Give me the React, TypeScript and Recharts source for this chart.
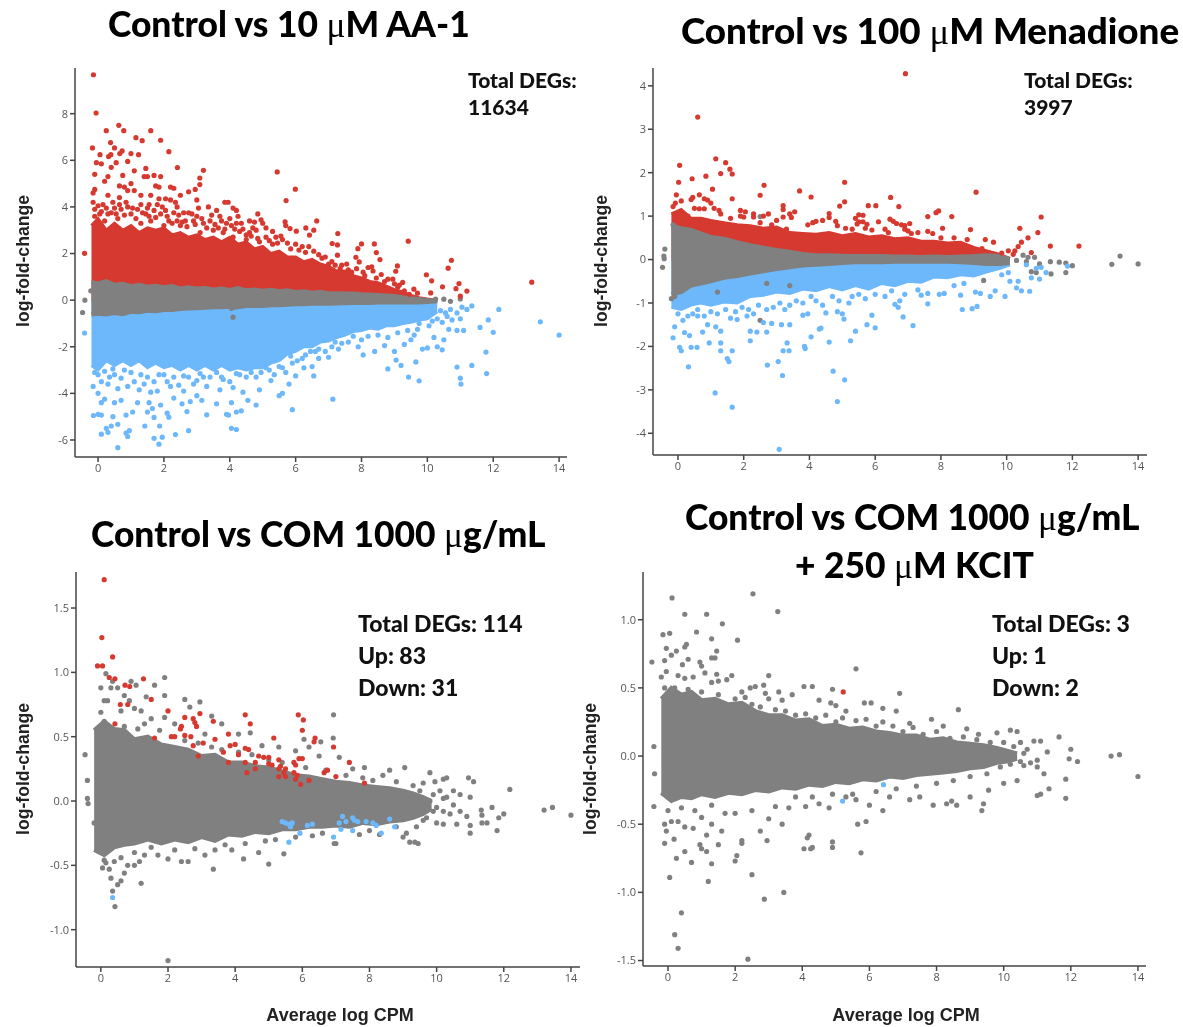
import { Area, ComposedChart, Scatter, XAxis, YAxis } from "recharts";

const RED = "#d6392f";
const GRAY = "#808080";
const BLUE = "#6db7fb";

type P = number[];

// shared x tick labels
const xTicks = [0, 2, 4, 6, 8, 10, 12, 14];

// ---- Control vs 10 uM AA-1: solid parts of the cloud, then single genes
const aaBandX = [-0.2, 0, 0.25, 0.5, 0.75, 1, 1.25, 1.5, 1.75, 2, 2.25, 2.5, 2.75, 3, 3.25, 3.5, 3.75, 4, 4.25, 4.5, 4.75, 5, 5.25, 5.5, 5.75, 6, 6.25, 6.5, 6.75, 7, 7.25, 7.5, 7.75, 8, 8.25, 8.5, 8.75, 9, 9.25, 9.5, 9.75, 10, 10.3];
const aaRedHi = [3.2, 3.5, 3.0, 3.3, 3.0, 3.2, 2.9, 3.1, 3.0, 3.1, 2.8, 2.9, 2.7, 2.8, 2.6, 2.7, 2.5, 2.7, 2.4, 2.5, 2.2, 2.3, 2.0, 2.1, 1.85, 1.85, 1.65, 1.75, 1.55, 1.45, 1.25, 1.25, 1.05, 0.95, 0.8, 0.75, 0.6, 0.45, 0.35, 0.2, 0.1, 0.05, 0];
const aaGrayHi = [0.78, 0.72, 0.82, 0.66, 0.7, 0.6, 0.66, 0.58, 0.62, 0.55, 0.6, 0.5, 0.55, 0.5, 0.52, 0.46, 0.5, 0.44, 0.52, 0.42, 0.46, 0.4, 0.44, 0.38, 0.42, 0.35, 0.38, 0.32, 0.36, 0.3, 0.3, 0.28, 0.28, 0.25, 0.24, 0.22, 0.2, 0.18, 0.12, 0.08, 0.05, 0, -0.02];
const aaGrayLo = [-0.62, -0.58, -0.62, -0.55, -0.6, -0.5, -0.52, -0.46, -0.48, -0.42, -0.42, -0.38, -0.36, -0.35, -0.33, -0.3, -0.3, -0.28, -0.3, -0.25, -0.25, -0.25, -0.22, -0.22, -0.2, -0.18, -0.18, -0.16, -0.15, -0.15, -0.14, -0.13, -0.12, -0.12, -0.12, -0.1, -0.1, -0.1, -0.1, -0.1, -0.1, -0.08, -0.05];
const aaBlueLo = [-2.8, -3.0, -2.6, -2.8, -2.6, -2.8, -2.6, -2.9, -2.7, -2.9, -2.8, -3.0, -2.8, -3.0, -2.8, -3.0, -2.8, -3.0, -2.9, -3.0, -2.9, -2.9, -2.7, -2.6, -2.3, -2.2, -2.0, -2.0, -1.8, -1.75, -1.6, -1.5, -1.35, -1.3, -1.2, -1.25, -1.1, -1.1, -1.0, -0.95, -0.85, -0.8, -0.5];

const aaUp: P[] = [
  [-0.14, 9.67], [-0.06, 8.03], [-0.17, 6.53], [0.25, 7.27], [0.63, 7.5], [0.78, 7.27], [1.15, 6.97], [1.34, 6.84], [1.6, 7.27], [1.9, 6.86],
  [0.38, 6.76], [0.5, 6.53], [0.06, 6.24], [0.32, 6.16], [0.39, 6.24], [0.73, 6.4], [0.66, 6.29], [1, 6.29], [1.23, 6.24], [2.15, 6.37],
  [2.41, 5.69], [3.2, 5.57], [5.44, 5.5], [5.99, 4.76], [5.71, 4.27], [3.09, 5.24], [3.09, 4.96], [-0.41, 2.01], [9.42, 2.53], [13.17, 0.77],
  [10.73, 1.71], [10.63, 1.37], [10.96, 0.71], [10.87, 0.49], [11.2, 0.39], [11, 0.17], [10.46, 0.57], [9.97, 1.09], [10.13, 0.83], [10.1, 0.31],
  [9.09, 1.47], [9.04, 1.24], [9.25, 0.76], [9.59, 0.47], [8.39, 2.41], [8.45, 2.04], [8.56, 1.74], [8, 2.41], [7.89, 2.21], [7.83, 1.84],
  [7.93, 1.64], [8.31, 1.43], [7.28, 2.86], [7.11, 2.43], [7.27, 2.37], [7.27, 1.93], [6.64, 3.4], [6.31, 3.1], [6.55, 3.0], [6.42, 2.79],
  [6.02, 2.96], [5.83, 3.07], [5.68, 3.36], [5.7, 3.2], [5.1, 3.1], [4.85, 3.7], [4.95, 3.45], [4.8, 3.0], [4.7, 3.1], [3.85, 4.2],
  [3.95, 4.2], [4.1, 3.95], [4.2, 3.85], [4.25, 3.6], [3.6, 3.85], [3.35, 4.0], [2.6, 3.75], [2.75, 3.75], [2.85, 3.7], [2.5, 4.5],
  [2.2, 4.85], [2.3, 4.8], [1.9, 5.3], [1.7, 5.35], [1.5, 5.3], [1.45, 5.65], [0.9, 5.95], [1.1, 5.55], [0.75, 5.35], [0.65, 4.9],
  [0.8, 4.85], [1, 5.0], [0.3, 5.3], [0.2, 5.1], [-0.1, 5.4], [-0.05, 5.9], [0.1, 5.85], [0.4, 5.7], [0.55, 5.9], [1.4, 5.3],
  [1.75, 4.9], [1.85, 4.85], [1.1, 4.7], [0.9, 4.7], [-0.1, 4.75], [-0.15, 4.6], [0.3, 4.5], [0.45, 4.2], [0.65, 4.4], [0.85, 4.2],
  [1.3, 4.5], [1.6, 4.5], [1.55, 4.1], [1.85, 4.35], [2.05, 4.35], [2.2, 4.3], [2.35, 4.2], [2.75, 4.65], [2.95, 4.75], [3, 4.3],
  [3.0, 3.6], [2.4, 3.4], [2.55, 3.35], [2.9, 3.4], [3.2, 3.3], [3.4, 3.4], [3.7, 3.6], [3.9, 3.3], [4.2, 3.3], [4.35, 3.3],
  [4.6, 2.9], [5.1, 2.7], [5.4, 2.7], [5.6, 2.6], [6.2, 2.3], [6.4, 2.3], [6.7, 1.95], [6.9, 1.85], [7.1, 1.65], [7.4, 1.5],
  [7.6, 1.3], [8.05, 1.2], [8.35, 1.25], [8.6, 1.1], [8.8, 0.9], [9, 0.7], [9.3, 0.4], [-0.1, 3.9], [0.1, 3.8], [0.4, 3.75],
  [0.7, 3.9], [1, 3.7], [1.2, 3.9], [1.45, 3.7], [1.7, 3.85], [1.9, 3.7], [2.1, 3.6], [2.3, 3.75], [0.2, 3.4], [0.6, 3.5],
  [1.3, 3.3], [1.6, 3.4], [2, 3.2], [3.1, 2.9], [3.5, 3.0], [3.8, 2.9], [4.1, 2.7], [4.5, 2.6], [4.9, 2.5], [5.3, 2.4],
];
// speckled margin of the red cloud
const aaUpEdge: P[] = [
  [-0.15, 4.2], [-0.1, 3.6], [0, 4.05], [0.05, 3.7], [0.15, 4.1], [0.25, 3.95], [0.3, 3.7], [0.5, 3.95], [0.55, 3.7], [0.65, 4.1],
  [0.8, 3.65], [0.9, 4.0], [1.05, 3.95], [1.15, 3.5], [1.3, 4.1], [1.35, 3.75], [1.5, 3.95], [1.55, 3.6], [1.75, 3.55], [1.8, 4.1],
  [1.95, 4], [2.05, 3.85], [2.15, 3.4], [2.25, 3.3], [2.4, 4], [2.45, 3.65], [2.5, 3.2], [2.65, 3.4], [2.7, 3.15], [2.95, 3.25],
  [3.05, 3.95], [3.15, 3.5], [3.3, 3.1], [3.45, 3.65], [3.55, 3.25], [3.65, 3.1], [3.75, 3.4], [3.85, 3.05], [4, 3.5], [4.05, 3.2],
  [4.15, 3.05], [4.3, 2.95], [4.4, 3.05], [4.5, 2.8], [4.6, 3.4], [4.65, 2.75], [4.75, 3.35], [4.85, 2.65], [5, 3.3], [5.2, 2.55],
  [5.3, 2.95], [5.45, 2.45], [5.55, 2.75], [5.75, 2.45], [5.85, 2.2], [6, 2.4], [6.1, 2.15], [6.3, 2.05], [6.55, 2.1], [6.8, 1.8],
  [7, 1.55], [7.2, 1.5], [7.35, 1.35], [7.55, 1.55], [7.7, 1.2], [7.85, 1.35], [8.1, 1.05], [8.2, 1.4], [8.45, 0.95], [8.7, 0.8],
  [8.95, 0.9], [9.1, 0.55], [9.15, 0.65], [9.45, 0.25], [9.7, 0.3],
];
const aaFlat: P[] = [[-0.4, 0], [-0.22, 0.4], [-0.47, -0.53], [4.05, -0.35], [4.1, -0.73], [4.15, -0.3], [9.2, -0.02], [9.8, 0], [10.25, 0.05], [10.5, 0.04], [10.7, -0.05], [11, 0.05]];
const aaDown: P[] = [
  [-0.41, -1.41], [14, -1.5], [13.43, -0.93], [12.17, -0.4], [11.35, -0.25], [11.6, -1.17], [11.85, -0.85], [12, -1.38], [11.78, -2.23], [11.8, -3.15],
  [11.35, -2.8], [10.9, -2.87], [11, -3.35], [11.02, -3.6], [9.75, -3.46], [9.43, -3.3], [8.8, -2.95], [9.2, -2.8], [9.05, -2.57], [9.65, -2.65],
  [7.13, -4.25], [5.9, -4.7], [4.8, -4.5], [4.55, -4.3], [5.5, -4.1], [5.6, -4], [4.2, -5.55], [4.05, -5.5], [3.96, -4.93], [3.9, -4.9],
  [4.05, -4.4], [4.2, -4.8], [4.35, -4.75], [3.3, -4.92], [3.6, -4.45], [2.7, -4.78], [2.75, -5.6], [2.35, -5.77], [1.95, -5.88], [1.85, -6.18],
  [1.7, -5.93], [1.87, -5.4], [1.42, -5.4], [0.6, -6.33], [0.6, -5.33], [0.9, -5.85], [0.95, -5.6], [0.85, -5.7], [0.1, -5.75], [0.3, -5.67],
  [0.25, -5.5], [0.4, -5.4], [-0.14, -4.95], [0, -4.9], [0.1, -4.93], [0.45, -5], [0.85, -4.93], [1.05, -4.8], [1.5, -4.8], [1.65, -4.65],
  [1.7, -5.03], [2.1, -4.85], [2.15, -5.02], [2.55, -4.45], [2.8, -4.35], [3, -4.1], [0.1, -4.4], [0.2, -4.25], [0.5, -4.4], [0.7, -4.3],
  [1.2, -4.4], [1.55, -4.4], [1.9, -4.5], [2.3, -4.2], [3.15, -4.3], [-0.15, -3.7], [0, -4], [0.3, -3.6], [0.6, -3.8], [0.9, -3.7],
  [1.25, -3.85], [1.6, -3.95], [1.8, -3.9], [2.2, -3.7], [2.6, -3.9], [2.9, -3.6], [3.3, -3.7], [3.7, -3.85], [4.1, -3.75], [4.4, -3.95],
  [4.9, -3.85], [5.25, -3.45], [5.8, -3.6], [6, -3.25], [6.25, -2.9], [6.5, -2.85], [6.55, -3.25], [6.7, -2.5], [7, -2.45], [7.3, -2.1],
  [7.9, -2], [8.05, -2.35], [8.4, -2.2], [8.7, -1.95], [9, -2.2], [9.3, -1.9], [9.5, -1.7], [9.85, -2.1], [10, -2.05], [10.2, -1.6],
  [10.3, -2], [10.5, -1.7], [10.45, -2.13], [10.65, -1.25], [10.9, -1.3], [11, -0.8], [11.1, -1.3], [11.2, -0.4], [10.6, -0.7], [10.3, -0.8],
  [10.05, -1.1], [9.7, -1.25], [9.6, -1.5], [0, -3.2], [0.5, -3.2], [1, -3.1], [1.5, -3.3], [2, -3.2], [2.6, -3.25], [3.2, -3.3],
  [3.8, -3.4], [4.3, -3.2], [4.8, -3.3], [5.2, -3.0], [5.6, -2.9], [5.9, -2.7], [6.2, -2.5], [6.6, -2.2], [7.1, -2], [7.6, -1.8],
];
// speckled margin of the blue cloud
const aaDownEdge: P[] = [
  [-0.1, -3.1], [0.1, -3.5], [0.2, -3.05], [0.35, -3.3], [0.45, -2.95], [0.7, -3.35], [0.8, -3.0], [1.1, -3.5], [1.3, -3.2], [1.4, -3.6],
  [1.7, -3.5], [1.85, -3.2], [2.1, -3.5], [2.3, -3.3], [2.45, -3.65], [2.75, -3.3], [3, -3.45], [3.1, -3.15], [3.4, -3.3], [3.6, -3.1],
  [3.75, -3.3], [4, -3.5], [4.2, -3.15], [4.5, -3.3], [4.65, -3.1], [4.95, -3.1], [5.1, -2.9], [5.35, -3.2], [5.5, -2.85], [5.7, -3.1],
  [5.85, -2.4], [6.05, -2.6], [6.3, -2.35], [6.45, -2.2], [6.7, -2.1], [6.9, -2.2], [7.2, -1.8], [7.4, -1.85], [7.75, -1.55], [8, -1.7],
  [8.2, -1.55], [8.5, -1.5], [8.8, -1.6], [9.1, -1.4], [9.4, -1.3], [9.75, -1], [9.95, -0.75], [10.15, -0.9], [10.45, -0.95], [10.55, -0.55],
  [10.75, -0.85], [10.9, -0.55], [10.7, -0.4], [10.4, -0.45], [10.2, -0.35], [11.05, -0.3],
];

// ---- Control vs 100 uM Menadione
const menBandX = [-0.2, 0.1, 0.4, 0.7, 1, 1.4, 1.8, 2.2, 2.6, 3, 3.4, 3.8, 4.2, 4.6, 5, 5.4, 5.8, 6.2, 6.6, 7, 7.4, 7.8, 8.2, 8.6, 9, 9.4, 9.8, 10.1];
const menRedHi = [1.05, 1.15, 0.95, 0.95, 0.9, 0.85, 0.8, 0.78, 0.72, 0.75, 0.62, 0.6, 0.58, 0.62, 0.55, 0.6, 0.52, 0.55, 0.48, 0.5, 0.42, 0.42, 0.38, 0.4, 0.28, 0.2, 0.12, 0.02];
const menGrayHi = [0.8, 0.72, 0.68, 0.6, 0.52, 0.48, 0.4, 0.33, 0.27, 0.22, 0.18, 0.13, 0.1, 0.1, 0.09, 0.08, 0.08, 0.08, 0.07, 0.07, 0.06, 0.07, 0.06, 0.07, 0.08, 0.1, 0.08, 0.02];
const menGrayLo = [-0.8, -0.75, -0.6, -0.55, -0.5, -0.42, -0.38, -0.32, -0.27, -0.22, -0.18, -0.14, -0.12, -0.1, -0.08, -0.06, -0.06, -0.06, -0.05, -0.05, -0.05, -0.05, -0.05, -0.06, -0.08, -0.1, -0.1, -0.08];
const menBlueLo = [-1.1, -1.15, -1.05, -1.0, -1.05, -0.98, -1.0, -0.85, -0.82, -0.75, -0.78, -0.68, -0.72, -0.62, -0.7, -0.6, -0.68, -0.55, -0.6, -0.5, -0.52, -0.4, -0.42, -0.35, -0.38, -0.28, -0.2, -0.12];

const menUp: P[] = [
  [6.92, 4.28], [0.6, 3.28], [1.15, 2.32], [1.45, 2.23], [0.05, 2.17], [1.58, 2.08], [1.65, 1.97], [1.3, 1.98], [0.85, 1.92], [0.43, 1.86],
  [0.02, 1.78], [2.62, 1.71], [5.07, 1.78], [3.7, 1.58], [2.5, 1.48], [0.65, 1.49], [-0.05, 1.49], [1.05, 1.62], [4.05, 1.44], [9.07, 1.55],
  [6.47, 1.43], [5.07, 1.33], [6.72, 1.22], [6.02, 1.24], [5.79, 1.24], [4.92, 1.23], [3.2, 1.24], [3.2, 1.15], [3.55, 1.1], [3.4, 1.05],
  [1.65, 1.4], [0.45, 1.43], [0.4, 1.38], [0.1, 1.35], [-0.08, 1.3], [0.8, 1.4], [0.9, 1.37], [1, 1.3], [-0.15, 1.22], [0.5, 1.18],
  [0.65, 1.17], [0.8, 1.17], [1.1, 1.18], [1.25, 1.13], [1.3, 1.05], [1.9, 1.13], [2.05, 1.1], [2.3, 1.05], [2.3, 0.98], [1.9, 1.0],
  [2, 0.98], [2.75, 1.05], [2.6, 1.0], [3.45, 0.97], [3.2, 0.98], [7.93, 1.12], [7.85, 1.08], [8.33, 0.99], [7.6, 0.99], [5.5, 1.03],
  [5.63, 1.02], [5.4, 0.95], [5.5, 0.87], [5.63, 0.87], [5.45, 0.82], [5.75, 0.81], [6.45, 0.93], [6.55, 0.88], [6.65, 0.83], [6.8, 0.8],
  [7.05, 0.83], [6.9, 0.78], [7, 0.66], [6.9, 0.7], [6.1, 0.87], [4.6, 1.06], [4.6, 0.97], [4.4, 0.9], [4.1, 0.85], [3.95, 0.8],
  [4.2, 0.88], [4.8, 0.88], [4.85, 0.78], [5.1, 0.72], [5.3, 0.7], [5.7, 0.72], [5.9, 0.68], [6.3, 0.7], [6.4, 0.62], [7.3, 0.62],
  [7.6, 0.65], [7.75, 0.6], [8.05, 0.72], [8.9, 0.69], [9.35, 0.46], [9.6, 0.4], [10.4, 0.72], [11.05, 0.98], [10.95, 0.62], [10.65, 0.5],
  [10.45, 0.4], [10.35, 0.3], [10.25, 0.2], [10.05, 0.2], [9.85, 0.15], [11.33, 0.31], [12.2, 0.31], [10.2, 0.12], [10.75, 0.16], [8.8, 0.46],
  [8.4, 0.5], [8, 0.5], [7.1, 0.6], [9.25, 0.25], [3, 0.9], [2.85, 0.8], [3.3, 0.7], [2.5, 0.85], [1.6, 0.95], [0.3, 1.0],
];
const menFlat: P[] = [
  [-0.4, 0.24], [-0.43, 0.08], [-0.42, 0.02], [-0.47, -0.18], [-0.15, 0.8], [2.5, 0.99], [-0.2, -0.9], [-0.1, -0.85], [10.5, 0.1], [10.65, 0.05],
  [10.85, 0.05], [10.3, -0.02], [10.6, -0.05], [11, -0.1], [11.33, -0.05], [11.6, -0.06], [11.8, -0.08], [12, -0.14], [11.8, -0.3], [11.35, -0.33],
  [10.9, -0.3], [10.75, -0.28], [13.2, -0.11], [13.45, 0.08], [14, -0.1], [9.3, -0.48], [2.7, -0.55], [1.2, -0.75], [2.5, -1.4], [3.4, -0.6],
];
const menDown: P[] = [
  [3.08, -4.37], [1.65, -3.4], [1.13, -3.07], [4.85, -3.27], [5.07, -2.77], [3.18, -2.67], [4.72, -2.57], [2.72, -2.43], [3.05, -2.35], [0.32, -2.47],
  [1.55, -2.35], [1.5, -2.28], [1.65, -2.1], [1.3, -2.1], [3.2, -2.1], [3.38, -2.1], [3.32, -1.92], [0.05, -2.02], [0.1, -2.1], [0.4, -2.02],
  [0.58, -2.02], [0.95, -1.92], [1.3, -1.92], [1.3, -1.65], [1.15, -1.55], [-0.15, -1.8], [-0.1, -1.55], [0.2, -1.68], [0.35, -1.75], [0.75, -1.67],
  [2.2, -1.87], [2.2, -1.65], [2.4, -1.67], [2.7, -1.67], [4.6, -1.9], [3.85, -2], [3.87, -2.05], [4.05, -1.78], [5.25, -1.87], [5.4, -1.65],
  [6, -1.57], [5.75, -1.5], [6.85, -1.32], [7.15, -1.52], [4.35, -1.58], [4.3, -1.6], [3.4, -1.5], [3.15, -1.5], [2.85, -1.47], [2.6, -1.45],
  [8.65, -1.15], [8.95, -1.13], [9.1, -1.08], [6.6, -1.03], [7.6, -1.02], [6.7, -1.1], [5, -1.25], [5.05, -1.37], [4.85, -1.2], [4.5, -1.23],
  [5.9, -1.28], [5.2, -1.0], [3.8, -1.28], [3.95, -1.25], [2.3, -1.25], [2.1, -1.3], [1.8, -1.38], [1.6, -1.35], [0.9, -1.5], [0.6, -1.3],
  [8.6, -0.82], [9.05, -0.75], [9.2, -0.78], [9.5, -0.85], [9.65, -0.72], [9.95, -0.85], [10.3, -0.65], [10.45, -0.72], [10.35, -0.5], [10.7, -0.73],
  [10.1, -0.5], [10.75, -0.42], [11, -0.45], [11.2, -0.3], [11.85, -0.15], [10.9, -0.2], [11.05, -0.18], [10.6, -0.12], [10.05, -0.3], [9.85, -0.35],
  [7.6, -0.78], [7.95, -0.8], [8.1, -0.78], [6.9, -0.8], [6.3, -0.85], [5.7, -0.9], [4.9, -0.95], [4.2, -0.95], [3.4, -1.05], [2.9, -1.1],
  [0, -1.25], [0.15, -1.4], [0.3, -1.3], [0.45, -1.25], [0.6, -1.15], [0.8, -1.3], [1, -1.2], [1.2, -1.25], [1.45, -1.15], [1.75, -1.2],
  [1.95, -1.1], [2.15, -1.15], [2.45, -1.05], [2.7, -1.15], [3.1, -1.0], [3.25, -1.15], [3.6, -0.95], [3.8, -1.0], [4.05, -0.85], [4.4, -1.05],
  [4.7, -0.85], [5.3, -0.85], [5.5, -0.8], [6, -0.8], [6.5, -0.72], [6.75, -0.95], [7.3, -0.7], [7.4, -0.82], [8.4, -0.6], [8.7, -0.55],
];

// ---- Control vs COM 1000 ug/mL
const comBandX = [-0.2, 0.1, 0.4, 0.7, 1, 1.4, 1.8, 2.2, 2.6, 3, 3.4, 3.8, 4.2, 4.6, 5, 5.4, 5.8, 6.2, 6.6, 7, 7.4, 7.8, 8.2, 8.6, 9, 9.3, 9.6, 9.85];
const comGrayHi = [0.55, 0.62, 0.56, 0.55, 0.48, 0.5, 0.44, 0.42, 0.4, 0.35, 0.36, 0.3, 0.3, 0.27, 0.26, 0.23, 0.2, 0.19, 0.17, 0.15, 0.14, 0.12, 0.11, 0.1, 0.08, 0.06, 0.03, 0];
const comGrayLo = [-0.38, -0.42, -0.36, -0.34, -0.33, -0.3, -0.33, -0.3, -0.32, -0.28, -0.31, -0.26, -0.27, -0.24, -0.25, -0.22, -0.22, -0.2, -0.2, -0.19, -0.2, -0.17, -0.18, -0.16, -0.15, -0.13, -0.1, -0.06];

const comUp: P[] = [
  [0.1, 1.72], [0.03, 1.27], [0.35, 1.12], [-0.1, 1.05], [0.05, 1.05], [0.25, 0.96], [0.42, 0.95], [1.27, 0.95], [0.72, 0.9], [0.86, 0.89],
  [1.5, 0.79], [0.58, 0.75], [0.8, 0.75], [2, 0.7], [0.42, 0.6], [2.95, 0.68], [4.3, 0.67], [5.88, 0.67], [6.03, 0.63], [2.5, 0.65],
  [2.75, 0.64], [2.8, 0.61], [2.85, 0.58], [3.35, 0.62], [2.4, 0.58], [2.37, 0.56], [4.45, 0.6], [6, 0.55], [3.8, 0.52], [2.5, 0.51],
  [2.68, 0.5], [1.6, 0.49], [2.1, 0.5], [2.2, 0.5], [5.15, 0.49], [6.38, 0.49], [6.35, 0.46], [3.05, 0.45], [3.4, 0.48], [4, 0.44],
  [3.85, 0.43], [2.75, 0.43], [6.93, 0.42], [4.3, 0.41], [4.4, 0.4], [3.65, 0.38], [4.1, 0.36], [2.9, 0.35], [4.7, 0.35], [4.85, 0.34],
  [5, 0.34], [5.3, 0.32], [5.9, 0.33], [6, 0.33], [5.75, 0.3], [5.8, 0.28], [7.4, 0.3], [3.8, 0.3], [4.3, 0.3], [4.6, 0.3],
  [5, 0.29], [5.1, 0.28], [5.35, 0.27], [5.3, 0.25], [5.5, 0.25], [5.45, 0.22], [4.6, 0.25], [4.35, 0.22], [5.75, 0.22], [6.75, 0.24],
  [6.65, 0.22], [5.85, 0.2], [5.3, 0.19], [5.5, 0.19], [5.8, 0.17], [5.95, 0.13], [6.2, 0.16], [7, 0.19], [7.85, 0.14],
];
const comFlat: P[] = [
  [-0.47, 0.36], [-0.4, 0.16], [-0.4, 0.02], [-0.38, -0.02], [-0.2, -0.17], [2, -1.24], [0.42, -0.82], [0.35, -0.7], [1.2, -0.64], [0.3, -0.6],
  [0.5, -0.65], [0.6, -0.62], [0.7, -0.56], [0.05, -0.52], [0.15, -0.48], [0.25, -0.53], [0.4, -0.47], [0.8, -0.5], [1, -0.5], [1.15, -0.47],
  [1.3, -0.42], [1.7, -0.42], [2, -0.45], [2.4, -0.47], [2.6, -0.47], [3.35, -0.53], [3.1, -0.42], [4.25, -0.45], [5, -0.49], [5.45, -0.41],
  [4.7, -0.4], [3.9, -0.38], [6.95, -0.33], [7, -0.33], [9, -0.28], [9.2, -0.32], [9.35, -0.32], [9.45, -0.33], [9.1, -0.25], [8.3, -0.26],
  [7.7, -0.26], [6.3, -0.27], [0.1, 0.62], [0, 0.69], [0.2, 0.78], [0, 0.88], [0.1, 0.78], [0.3, 0.88], [0.15, 0.99], [0.35, 0.93],
  [0.5, 0.88], [0.7, 0.82], [0.9, 0.93], [1.05, 0.9], [1.9, 0.96], [1.6, 0.9], [1.35, 0.81], [0.85, 0.78], [0.6, 0.7], [1, 0.72],
  [1.2, 0.7], [1.9, 0.82], [2.5, 0.79], [2.65, 0.73], [2.95, 0.77], [3.3, 0.66], [3.6, 0.6], [2.2, 0.6], [1.9, 0.65], [1.5, 0.64],
  [0.3, 0.55], [0.7, 0.58], [1.1, 0.56], [1.75, 0.55], [3.1, 0.52], [4.1, 0.52], [4.45, 0.53], [4.8, 0.43], [5.3, 0.42], [5.8, 0.39],
  [6.2, 0.42], [6.55, 0.46], [6.92, 0.49], [6.93, 0.67], [6.05, 0.48], [6.5, 0.35], [7.1, 0.34], [7.5, 0.25], [7.85, 0.26], [8.4, 0.2],
  [8.6, 0.24], [9.05, 0.26], [9.8, 0.22], [10.2, 0.17], [9.95, 0.15], [10.3, 0.18], [10.95, 0.18], [11.1, 0.15], [9.6, 0.14], [10.5, 0.08],
  [10.7, 0.05], [11, 0.03], [12.18, 0.09], [11.65, -0.05], [11.33, -0.07], [11.35, -0.11], [11.5, -0.17], [11.35, -0.17], [11.85, -0.13], [12, -0.1],
  [11.8, -0.23], [11, -0.19], [11, -0.25], [10, -0.17], [10.2, -0.18], [10.6, -0.18], [10.9, -0.12], [10.5, -0.03], [10.2, 0.02], [9.8, 0],
  [10, -0.05], [10.4, -0.1], [13.2, -0.07], [13.45, -0.05], [14, -0.11], [9.6, -0.15], [9.7, -0.05],
  [1.3, 0.6], [2.5, 0.47], [2.9, 0.45], [3.3, 0.42], [3.6, 0.4], [4.1, 0.38], [4.5, 0.36], [5, 0.32], [5.4, 0.3], [6.1, 0.26],
  [6.7, 0.24], [7.3, 0.2], [7.8, 0.18], [8.1, 0.16], [8.8, 0.15], [9.3, 0.12], [9.5, 0.08], [9.9, 0.05], [10.1, 0.08], [10.3, 0.03],
  [9.9, -0.08], [10.2, -0.08], [10.7, -0.08], [0.1, -0.46], [0.6, -0.44], [1, -0.4], [1.5, -0.36], [2.2, -0.38], [2.8, -0.37], [3.4, -0.38],
  [3.7, -0.34], [4.3, -0.33], [4.9, -0.31], [5.2, -0.3], [5.8, -0.28], [6.6, -0.25], [8, -0.23], [8.8, -0.2], [9.4, -0.2], [9.7, -0.13],
];
const comDown: P[] = [
  [0.35, -0.75], [5.4, -0.16], [5.5, -0.17], [5.6, -0.18], [5.7, -0.17], [5.65, -0.2], [5.6, -0.32], [5.93, -0.25], [6.15, -0.19], [6.3, -0.18],
  [6.93, -0.28], [7.1, -0.17], [7.15, -0.22], [7.2, -0.12], [7.3, -0.16], [7.5, -0.13], [7.55, -0.15], [7.65, -0.16], [7.5, -0.23], [7.9, -0.16],
  [8.1, -0.17], [8.2, -0.19], [8.35, -0.25], [8.6, -0.14], [8.75, -0.2],
];

// ---- Control vs COM 1000 ug/mL + 250 uM KCIT
const kcitBandX = [-0.2, 0.1, 0.4, 0.7, 1, 1.4, 1.8, 2.2, 2.6, 3, 3.4, 3.8, 4.2, 4.6, 5, 5.4, 5.8, 6.2, 6.6, 7, 7.4, 7.8, 8.2, 8.6, 9, 9.4, 9.8, 10.1, 10.4];
const kcitGrayHi = [0.42, 0.5, 0.45, 0.47, 0.41, 0.42, 0.38, 0.39, 0.33, 0.3, 0.3, 0.26, 0.27, 0.22, 0.23, 0.2, 0.21, 0.18, 0.17, 0.15, 0.15, 0.12, 0.13, 0.1, 0.09, 0.08, 0.06, 0.04, 0.02];
const kcitGrayLo = [-0.27, -0.33, -0.3, -0.31, -0.28, -0.3, -0.27, -0.28, -0.25, -0.26, -0.23, -0.24, -0.21, -0.22, -0.19, -0.2, -0.17, -0.18, -0.15, -0.16, -0.14, -0.13, -0.12, -0.11, -0.09, -0.08, -0.05, -0.04, -0.02];

const kcitFlat: P[] = [
  [2.53, 1.19], [0.12, 1.16], [0.5, 1.04], [1.15, 1.04], [1.62, 0.97], [3.27, 1.06], [-0.15, 0.89], [0.05, 0.9], [0.85, 0.91], [1.3, 0.86],
  [2.07, 0.85], [-0.48, 0.69], [-0.05, 0.79], [0.55, 0.82], [0.5, 0.8], [0.25, 0.77], [0.1, 0.74], [1.45, 0.77], [1.4, 0.72], [1.3, 0.72],
  [0.95, 0.69], [0.6, 0.71], [0.43, 0.67], [-0.1, 0.7], [-0.05, 0.62], [1, 0.66], [1.1, 0.61], [1.45, 0.6], [3.0, 0.59], [5.6, 0.64],
  [-0.2, 0.58], [0.3, 0.59], [0.5, 0.57], [0.75, 0.58], [1.9, 0.59], [1.75, 0.56], [1.5, 0.55], [1.3, 0.54], [2.85, 0.52], [2.6, 0.51],
  [2.45, 0.5], [4.05, 0.51], [4.3, 0.51], [4.9, 0.49], [6.9, 0.46], [2.9, 0.46], [3.3, 0.47], [2.2, 0.47], [2.3, 0.43], [3, 0.42],
  [3.4, 0.41], [3.7, 0.45], [4.5, 0.41], [4.85, 0.39], [5, 0.37], [5.85, 0.39], [6.05, 0.39], [8.65, 0.34], [5.3, 0.33], [6.4, 0.35],
  [6.8, 0.33], [7.2, 0.24], [7.85, 0.27], [8.2, 0.22], [8.9, 0.2], [9.25, 0.16], [9.8, 0.17], [10.2, 0.19], [10.4, 0.18], [10.9, 0.11],
  [11.1, 0.11], [11.65, 0.14], [12, 0.05], [11.3, 0.03], [10.5, 0.1], [10.7, 0.05], [12.2, -0.04], [11.95, -0.02], [11, -0.03], [10.8, -0.05],
  [13.2, 0], [13.45, 0.01], [14, -0.15], [-0.42, 0.07], [-0.4, -0.13], [-0.42, -0.37], [10.6, -0.07], [11, -0.08], [11.2, -0.13], [11.35, -0.24],
  [11, -0.29], [11.1, -0.28], [11.85, -0.17], [11.85, -0.31], [10.4, -0.18], [10, -0.2], [9.55, -0.25], [9.4, -0.35], [9.35, -0.4], [9, -0.3],
  [8.6, -0.36], [8.45, -0.33], [8.3, -0.35], [7.9, -0.36], [7.5, -0.3], [7.2, -0.32], [6.6, -0.3], [6.4, -0.4], [6, -0.36], [5.9, -0.48],
  [5.65, -0.5], [5.75, -0.71], [4.9, -0.63], [4.9, -0.67], [4.25, -0.68], [4.3, -0.67], [4.05, -0.68], [4.2, -0.58], [4.15, -0.6], [3.4, -0.5],
  [3.0, -0.46], [2.75, -0.55], [2.95, -0.62], [2.2, -0.62], [2.2, -0.64], [2.5, -0.87], [2.05, -0.73], [2.0, -0.77], [3.45, -1.0], [2.87, -1.05],
  [2.38, -1.49], [1.2, -0.92], [0.05, -0.89], [0.25, -0.75], [0.7, -0.78], [1.3, -0.79], [1.15, -0.7], [1, -0.68], [0.95, -0.65], [1.5, -0.65],
  [1.6, -0.55], [1.3, -0.5], [1.15, -0.58], [0.5, -0.7], [0.18, -0.61], [-0.1, -0.64], [-0.05, -0.55], [0.4, -1.15], [0.2, -1.31], [0.3, -1.41],
  [-0.1, -0.5], [0.1, -0.48], [0.3, -0.48], [0.5, -0.52], [0.75, -0.53], [1, -0.45], [1.7, -0.42], [2, -0.42], [2.5, -0.4], [3.2, -0.37],
  [3.6, -0.38], [4.1, -0.37], [4.5, -0.35], [4.8, -0.38], [5.3, -0.3], [5.6, -0.32], [0, -0.4], [0.4, -0.38], [0.8, -0.4], [1.3, -0.36],
  [-0.1, 0.5], [0.2, 0.5], [0.6, 0.49], [1, 0.47], [1.5, 0.45], [2, 0.42], [2.5, 0.38], [3.2, 0.34], [3.8, 0.3], [4.4, 0.28],
  [5, 0.25], [5.6, 0.26], [6.2, 0.22], [7, 0.18], [7.6, 0.16], [8.4, 0.13],
  [2.75, 0.36], [3.5, 0.33], [4.1, 0.31], [4.7, 0.3], [5.2, 0.28], [5.9, 0.27], [6.4, 0.25], [6.7, 0.22], [7.3, 0.21], [8, 0.18],
  [8.8, 0.14], [9.2, 0.12], [9.6, 0.1], [10, 0.1], [10.3, 0.07], [10.6, 0.02], [9.9, -0.08], [10.2, -0.06], [10.5, -0.04], [9.5, -0.13],
  [9, -0.15], [8.5, -0.18], [8, -0.2], [7.4, -0.22], [6.8, -0.24], [6.2, -0.26], [5.5, -0.28], [4.9, -0.28], [4.3, -0.3], [3.8, -0.3],
];
const kcitUp: P[] = [[5.22, 0.47]];
const kcitDown: P[] = [[5.2, -0.33], [6.42, -0.21]];

const toPoints = (list: P[]) => list.map(([x, y]) => ({ x, y }));

const Dot = (props: any) => <circle cx={props.cx} cy={props.cy} r={2.6} fill={props.fill} />;

type PanelProps = {
  left: number; top: number; plotW: number; plotH: number;
  xDomain: number[]; yDomain: number[]; yTicks: number[]; decimals: number;
  table: any[]; up: P[]; flat: P[]; down: P[]; hasColouredBands: boolean;
};

const Y_AXIS_W = 60;
const X_AXIS_H = 30;

function Panel(p: PanelProps) {
  return (
    <div style={{ position: "absolute", left: p.left - Y_AXIS_W, top: p.top }}>
      <ComposedChart
        width={p.plotW + Y_AXIS_W}
        height={p.plotH + X_AXIS_H}
        data={p.table}
        margin={{ top: 0, right: 0, bottom: 0, left: 0 }}
      >
        <XAxis
          type="number"
          dataKey="x"
          domain={p.xDomain}
          ticks={xTicks}
          allowDataOverflow
          height={X_AXIS_H}
          interval={0}
          stroke="#444"
          strokeWidth={1.5}
          tickSize={5}
          tick={{ fontSize: 11, fill: "#555", fontFamily: "Open Sans" }}
        />
        <YAxis
          type="number"
          dataKey="y"
          domain={p.yDomain}
          ticks={p.yTicks}
          allowDataOverflow
          width={Y_AXIS_W}
          interval={0}
          stroke="#444"
          strokeWidth={1.5}
          tickSize={5}
          tickFormatter={(v: number) => v.toFixed(p.decimals)}
          tick={{ fontSize: 11, fill: "#555", fontFamily: "Open Sans" }}
        />
        {p.hasColouredBands && (
          <Area dataKey="red" type="linear" fill={RED} fillOpacity={1} stroke={RED} strokeWidth={3} dot={false} activeDot={false} isAnimationActive={false} />
        )}
        {p.hasColouredBands && (
          <Area dataKey="blue" type="linear" fill={BLUE} fillOpacity={1} stroke={BLUE} strokeWidth={3} dot={false} activeDot={false} isAnimationActive={false} />
        )}
        <Area dataKey="gray" type="linear" fill={GRAY} fillOpacity={1} stroke={GRAY} strokeWidth={4} dot={false} activeDot={false} isAnimationActive={false} />
        <Scatter data={toPoints(p.flat)} fill={GRAY} shape={Dot} isAnimationActive={false} />
        <Scatter data={toPoints(p.up)} fill={RED} shape={Dot} isAnimationActive={false} />
        <Scatter data={toPoints(p.down)} fill={BLUE} shape={Dot} isAnimationActive={false} />
      </ComposedChart>
    </div>
  );
}

function Title({ x, y, size = 35.4, children }: { x: number; y: number; size?: number; children: React.ReactNode }) {
  return (
    <div style={{ position: "absolute", left: x, top: y, whiteSpace: "nowrap", fontFamily: "Lato", fontWeight: 900, fontSize: size, lineHeight: "40px", color: "#000" }}>
      {children}
    </div>
  );
}

function Note({ x, y, size, gap, lines }: { x: number; y: number; size: number; gap: number; lines: string[] }) {
  return (
    <div style={{ position: "absolute", left: x, top: y, whiteSpace: "nowrap", fontFamily: "Lato", fontWeight: 900, fontSize: size, lineHeight: `${gap}px`, color: "#111" }}>
      {lines.map((line) => (
        <div key={line}>{line}</div>
      ))}
    </div>
  );
}

function AxisName({ x, y, text, size, vertical }: { x: number; y: number; text: string; size: number; vertical?: boolean }) {
  return (
    <div
      style={{
        position: "absolute",
        left: x,
        top: y,
        whiteSpace: "nowrap",
        fontFamily: "Liberation Sans",
        fontWeight: 700,
        fontSize: size,
        color: "#222",
        transform: `translate(-50%, -50%)${vertical ? " rotate(-90deg)" : ""}`,
      }}
    >
      {text}
    </div>
  );
}

const Mu = () => <span style={{ fontFamily: "Liberation Serif", fontWeight: 400 }}>μ</span>;

const aaTable = aaBandX.map((x, i) => ({ x, red: [0, aaRedHi[i]], gray: [aaGrayLo[i], aaGrayHi[i]], blue: [aaBlueLo[i], 0] }));
const menTable = menBandX.map((x, i) => ({ x, red: [0, menRedHi[i]], gray: [menGrayLo[i], menGrayHi[i]], blue: [menBlueLo[i], 0] }));
const comTable = comBandX.map((x, i) => ({ x, gray: [comGrayLo[i], comGrayHi[i]] }));
const kcitTable = kcitBandX.map((x, i) => ({ x, gray: [kcitGrayLo[i], kcitGrayHi[i]] }));

export default function App() {
  return (
    <div style={{ position: "absolute", left: 0, top: 0, width: 1183, height: 1027, background: "#fff", overflow: "hidden", filter: "blur(0.4px)" }}>
      <Panel left={75} top={68} plotW={492} plotH={389} xDomain={[-0.7, 14.24]} yDomain={[-6.73, 9.96]} yTicks={[-6, -4, -2, 0, 2, 4, 6, 8]} decimals={0}
        table={aaTable} up={[...aaUp, ...aaUpEdge]} flat={aaFlat} down={[...aaDown, ...aaDownEdge]} hasColouredBands />
      <Panel left={653} top={68} plotW={494} plotH={387} xDomain={[-0.76, 14.27]} yDomain={[-4.5, 4.41]} yTicks={[-4, -3, -2, -1, 0, 1, 2, 3, 4]} decimals={0}
        table={menTable} up={menUp} flat={menFlat} down={menDown} hasColouredBands />
      <Panel left={76} top={572} plotW={504} plotH={395} xDomain={[-0.74, 14.27]} yDomain={[-1.29, 1.78]} yTicks={[-1, -0.5, 0, 0.5, 1, 1.5]} decimals={1}
        table={comTable} up={comUp} flat={comFlat} down={comDown} hasColouredBands={false} />
      <Panel left={643} top={572} plotW={503} plotH={394} xDomain={[-0.745, 14.24]} yDomain={[-1.54, 1.35]} yTicks={[-1.5, -1, -0.5, 0, 0.5, 1]} decimals={1}
        table={kcitTable} up={kcitUp} flat={kcitFlat} down={kcitDown} hasColouredBands={false} />

      <Title x={108} y={4}>Control vs 10 <Mu />M AA-1</Title>
      <Title x={681} y={10} size={36.8}>Control vs 100 <Mu />M Menadione</Title>
      <Title x={91} y={514}>Control vs COM 1000 <Mu />g/mL</Title>
      <Title x={685} y={497}>Control vs COM 1000 <Mu />g/mL</Title>
      <Title x={795} y={545}>+ 250 <Mu />M KCIT</Title>

      <Note x={468} y={66} size={21} gap={27} lines={["Total DEGs:", "11634"]} />
      <Note x={1024} y={66} size={21} gap={27} lines={["Total DEGs:", "3997"]} />
      <Note x={358} y={607} size={23} gap={32} lines={["Total DEGs: 114", "Up: 83", "Down: 31"]} />
      <Note x={992} y={607} size={23} gap={32} lines={["Total DEGs: 3", "Up: 1", "Down: 2"]} />

      <AxisName x={23} y={261} size={17.6} text="log-fold-change" vertical />
      <AxisName x={601} y={261} size={17.6} text="log-fold-change" vertical />
      <AxisName x={23} y={769} size={17.6} text="log-fold-change" vertical />
      <AxisName x={590} y={769} size={17.6} text="log-fold-change" vertical />
      <AxisName x={340} y={1015} size={18} text="Average log CPM" />
      <AxisName x={906} y={1015} size={18} text="Average log CPM" />
    </div>
  );
}
